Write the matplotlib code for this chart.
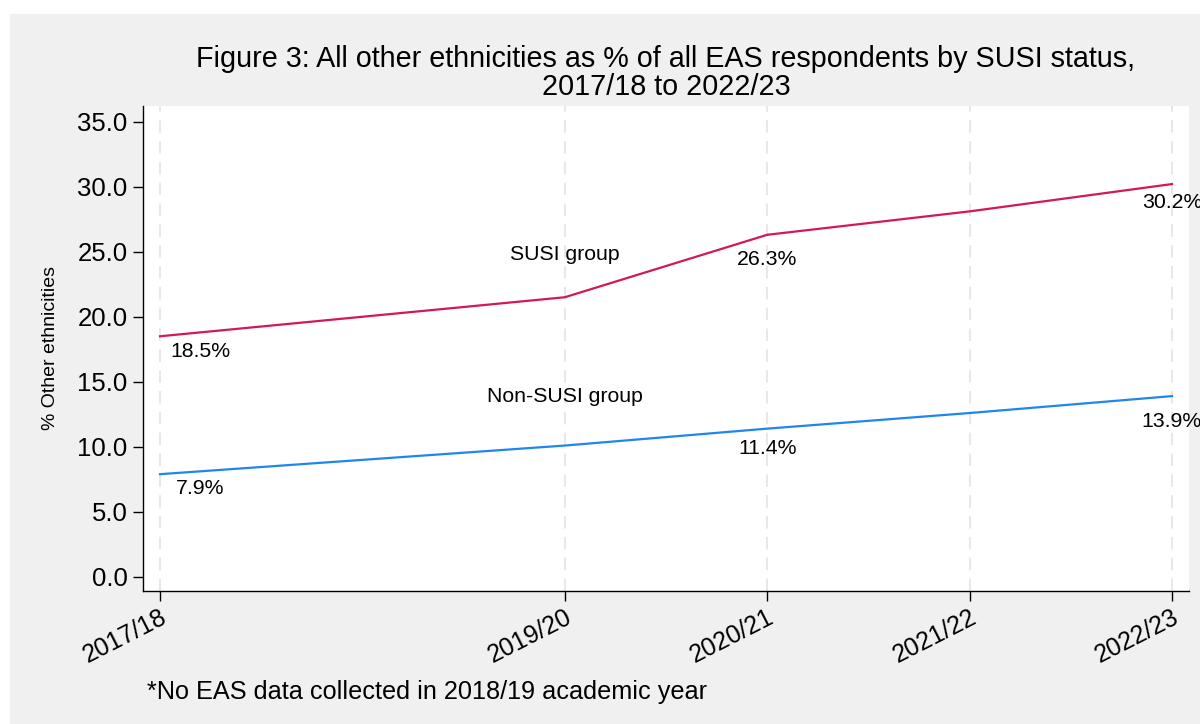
import matplotlib.pyplot as plt
from matplotlib.patches import Rectangle

# data
years = [2017, 2019, 2020, 2021, 2022]
year_labels = ["2017/18", "2019/20", "2020/21", "2021/22", "2022/23"]
susi = [18.5, 21.5, 26.3, 28.1, 30.2]
non_susi = [7.9, 10.1, 11.4, 12.6, 13.9]

# which points get a value label
labelled = [0, 2, 4]

plt.rcParams['font.family'] = ['Liberation Sans', 'DejaVu Sans']

fig = plt.figure(figsize=(12, 7.24), dpi=100)
fig.patch.set_facecolor('white')
# grey background band like Stata graph region
fig.patches.append(Rectangle((10 / 1200, 0), 1, 1 - 14 / 724, transform=fig.transFigure,
                             facecolor='#f0f0f0', edgecolor='none', zorder=-10))

ax = fig.add_axes([143 / 1200, 1 - 591 / 724, (1189 - 143) / 1200, (591 - 106) / 724])
ax.set_facecolor('white')

ax.plot(years, susi, color='#d2185a', lw=1.6)
ax.plot(years, non_susi, color='#1f86f0', lw=1.6)

# value labels below the points
x_shift = {0: 0.2, 2: 0.0, 4: 0.0}
for series, offs in [(susi, {0: -11, 2: -18, 4: -13}), (non_susi, {0: -10, 2: -14, 4: -18})]:
    for i in labelled:
        ax.annotate(f"{series[i]:.1f}%", (years[i] + x_shift[i], series[i]),
                    xytext=(0, offs[i]), textcoords='offset points',
                    ha='center', va='center', fontsize=15.3, annotation_clip=False)

ax.text(2019, 24.8, "SUSI group", ha='center', va='center', fontsize=15.3)
ax.text(2019, 13.9, "Non-SUSI group", ha='center', va='center', fontsize=15.3)

ax.set_xlim(2016.916, 2022.084)
ax.set_ylim(-1.08, 36.2)
ax.set_xticks(years)
ax.set_xticklabels(year_labels, rotation=27, ha='right', rotation_mode='anchor', fontsize=18)
ax.set_yticks([0, 5, 10, 15, 20, 25, 30, 35])
ax.set_yticklabels([f"{v:.1f}" for v in [0, 5, 10, 15, 20, 25, 30, 35]], fontsize=18.5)
ax.tick_params(axis='both', direction='out', length=7, width=1, color='black')
ax.tick_params(axis='x', pad=3)
ax.tick_params(axis='y', pad=4)

ax.grid(axis='x', color='#e8e8e8', linestyle=(0, (6, 4)), lw=1.5)
ax.grid(axis='y', visible=False)
for side in ['top', 'right']:
    ax.spines[side].set_visible(False)
for side in ['left', 'bottom']:
    ax.spines[side].set_color('black')
    ax.spines[side].set_linewidth(1)

ax.set_ylabel("% Other ethnicities", fontsize=14, labelpad=13)

fig.text(666 / 1200, 1 - 73 / 724, "Figure 3: All other ethnicities as % of all EAS respondents by SUSI status,\n2017/18 to 2022/23",
         ha='center', va='center', fontsize=20.7, linespacing=1.0)
fig.text(147 / 1200, 1 - 692 / 724, "*No EAS data collected in 2018/19 academic year",
         ha='left', va='center', fontsize=18.2)

fig.savefig("out.png", dpi=100)
